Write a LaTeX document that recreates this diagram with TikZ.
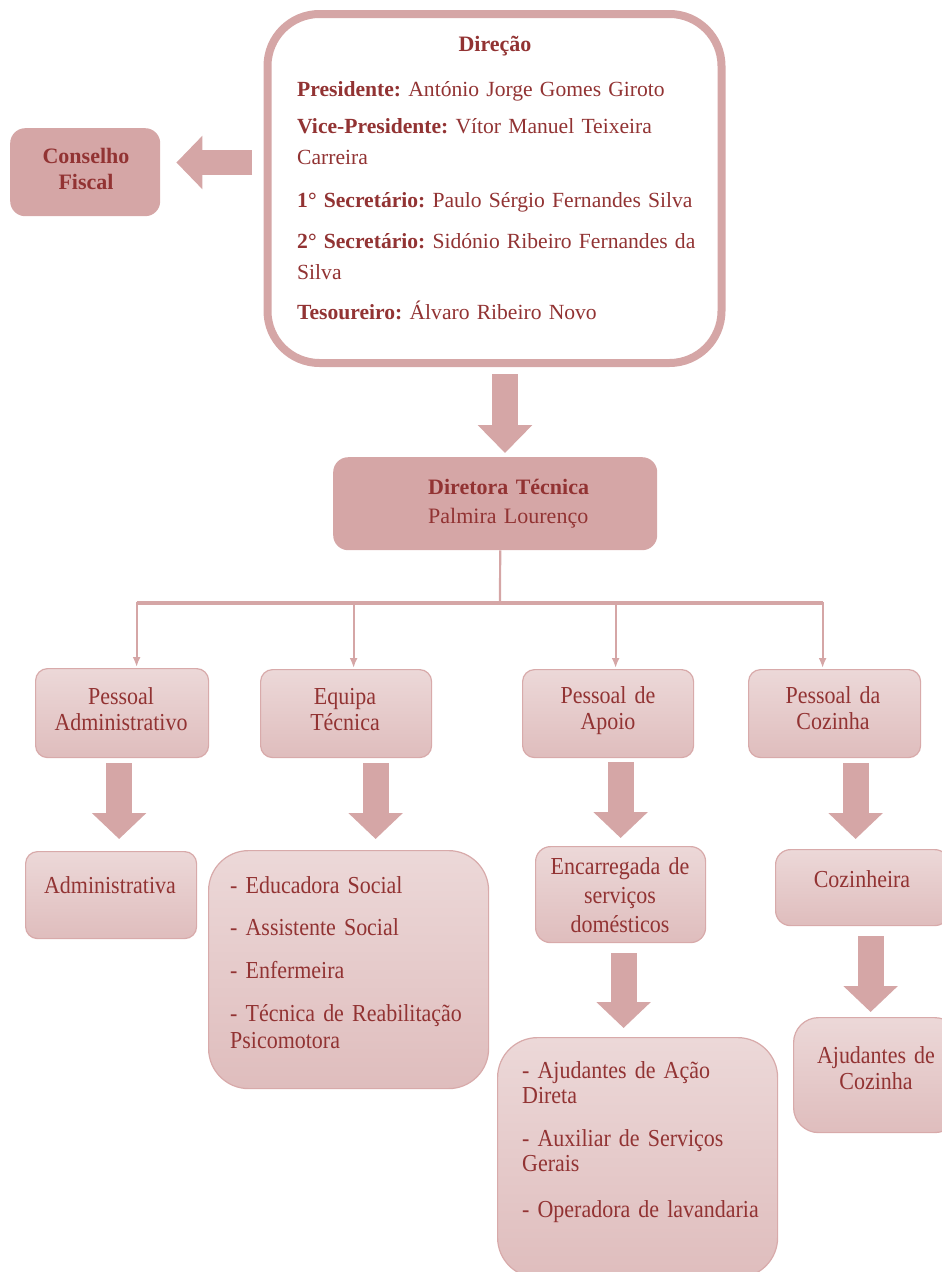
\documentclass[tikz,border=0pt]{standalone}
\usepackage{fontspec}
\setmainfont{Liberation Serif}
\newfontfamily\tallserif[FakeStretch=0.9]{Liberation Serif}
\usetikzlibrary{arrows.meta,calc}
\definecolor{rosedark}{HTML}{D5A6A6}
\definecolor{txtred}{HTML}{923333}
\definecolor{rosetop}{HTML}{ECD8D8}
\definecolor{rosebot}{HTML}{DFBDBD}
\definecolor{roseline}{HTML}{D8AAAA}
\begin{document}
\frenchspacing
\begin{tikzpicture}[x=1pt,y=-1pt,
  darkbox/.style={fill=rosedark, draw=none, rounded corners=15pt, anchor=north west, inner sep=0pt},
  lightbox/.style={top color=rosetop, bottom color=rosebot, draw=roseline, line width=1.2pt, rounded corners=12pt, anchor=north west, inner sep=0pt},
  blockarrow/.style={draw=rosedark, line width=26pt, -{Triangle[length=26pt,width=53pt]}},
  conn/.style={draw=rosedark, line width=2.2pt, -{Latex[length=10pt,width=8pt]}, shorten >=1pt},
  ctext/.style={anchor=base, inner sep=0pt, text=txtred, align=center, text width=#1},
  ltext/.style={anchor=base west, inner sep=0pt, text=txtred, align=left, text width=#1},
  lowfont/.style={font=\tallserif\fontsize{24.4}{#1}\selectfont},
]
\useasboundingbox (0,0) rectangle (942,1272);
\clip (0,0) rectangle (942,1272);

% Direcao
\node[draw=rosedark, line width=8pt, fill=white, rounded corners=52pt, anchor=north west,
      minimum width=454pt, minimum height=349pt, inner sep=0pt, outer sep=0pt] (dir) at (267.5,14) {};
\node[ctext=200pt, font=\fontsize{22}{26}\selectfont\bfseries] (dirtitle) at (495,51) {Direção};
\node[ltext=420pt, font=\fontsize{21.6}{31}\selectfont] (dirbody) at (297,96)
  {\textbf{Presidente:} António Jorge Gomes Giroto\\[6pt]
   \textbf{Vice-Presidente:} Vítor Manuel Teixeira\\
   Carreira\\[12pt]
   \textbf{1° Secretário:} Paulo Sérgio Fernandes Silva\\[10pt]
   \textbf{2° Secretário:} Sidónio Ribeiro Fernandes da\\
   Silva\\[9pt]
   \textbf{Tesoureiro:} Álvaro Ribeiro Novo};

% Conselho Fiscal
\node[darkbox, minimum width=150pt, minimum height=88pt] (cf) at (10,128) {};
\node[ctext=140pt, font=\fontsize{22}{26}\selectfont\bfseries] (cftxt) at (86,163) {Conselho\\Fiscal};

% Diretora Tecnica
\node[darkbox, minimum width=324pt, minimum height=93pt] (dt) at (333,457) {};
\node[ltext=200pt, font=\fontsize{22}{29}\selectfont] (dttxt) at (428,494)
  {\textbf{Diretora Técnica}\\Palmira Lourenço};

% block arrows top
\coordinate (cftail) at ($(dir.west)+(-15.5,-26)$);
\coordinate (cftip) at ($(cf.east)+(16,0)$);
\draw[blockarrow, line width=25pt, -{Triangle[length=26pt,width=52pt]}]
  (cftail) -- (cftail -| cftip);
\coordinate (dttail) at ($(dir.south)+(10.5,11)$);
\coordinate (dttip) at ($(dt.north)+(0,-4)$);
\draw[blockarrow, -{Triangle[length=28pt,width=53pt]}]
  (dttail) -- (dttail |- dttip);

% level 2
\node[lightbox, minimum width=173pt, minimum height=89pt] (pa) at (35,668) {};
\node[lightbox, minimum width=171pt, minimum height=88pt] (et) at (260,669) {};
\node[lightbox, minimum width=171pt, minimum height=88pt] (pda) at (522,669) {};
\node[lightbox, minimum width=172pt, minimum height=88pt] (pdc) at (748,669) {};
\node[ctext=170pt, lowfont=26] (patxt) at (121,704) {Pessoal\\Administrativo};
\node[ctext=170pt, lowfont=26] (ettxt) at (345,704) {Equipa\\Técnica};
\node[ctext=170pt, lowfont=26] (pdatxt) at (608,703) {Pessoal de\\Apoio};
\node[ctext=170pt, lowfont=26] (pdctxt) at (833,703) {Pessoal da\\Cozinha};

% tree connectors
\coordinate (hub) at (500,603);
\coordinate (dpa) at ($(pa.north)+(14.5,0)$);
\coordinate (det) at ($(et.north)+(7.5,0)$);
\coordinate (dpda) at ($(pda.north)+(7.5,0)$);
\coordinate (dpdc) at ($(pdc.north)+(-12,0)$);
\draw[draw=rosedark, line width=2.2pt] ($(dt.south)+(5,0)$) -- (hub);
\draw[conn] (hub) -| (dpa);
\draw[conn] (hub) -| (det);
\draw[conn] (hub) -| (dpda);
\draw[conn] (hub) -| (dpdc);
\draw[draw=rosedark, line width=3.6pt] (dpa |- hub) -- (dpdc |- hub);

% level 3
\node[lightbox, minimum width=171pt, minimum height=87pt] (adm) at (25,851) {};
\node[ctext=170pt, lowfont=28] (admtxt) at (110,893) {Administrativa};

\node[lightbox, rounded corners=40pt, minimum width=280pt, minimum height=238pt] (eq) at (208,850) {};
\node[ltext=260pt, lowfont=27] (eqtxt) at (230,893)
  {- Educadora Social\\[15pt]
   - Assistente Social\\[16pt]
   - Enfermeira\\[16pt]
   - Técnica de Reabilitação\\
   Psicomotora};

\node[lightbox, rounded corners=15pt, minimum width=170pt, minimum height=96pt] (enc) at (535,846) {};
\node[ctext=170pt, lowfont=29] (enctxt) at (620,874) {Encarregada de\\serviços\\domésticos};

\node[lightbox, rounded corners=15pt, minimum width=174pt, minimum height=76pt] (coz) at (775,849) {};
\node[ctext=170pt, lowfont=28] (coztxt) at (862,887) {Cozinheira};

% level 4
\node[lightbox, rounded corners=40pt, minimum width=280pt, minimum height=240pt] (aj) at (497,1037) {};
\node[ltext=260pt, lowfont=25] (ajtxt) at (522,1078)
  {- Ajudantes de Ação\\
   Direta\\[18pt]
   - Auxiliar de Serviços\\
   Gerais\\[21pt]
   - Operadora de lavandaria};

\node[lightbox, rounded corners=25pt, minimum width=166pt, minimum height=115pt] (ajc) at (793,1017) {};
\node[ctext=160pt, lowfont=26] (ajctxt) at (876,1063) {Ajudantes de\\Cozinha};

% block arrows lower
\draw[blockarrow] ($(pa.south)+(-3,5)$) -- ($(adm.north)+(8,-12)$);
\draw[blockarrow] ($(et.south)+(29.5,5)$) -- ($(eq.north)+(27,-11)$);
\draw[blockarrow] ($(pda.south)+(12.5,4)$) -- ($(enc.north)+(0,-8)$);
\draw[blockarrow] ($(pdc.south)+(21,5)$) -- ($(coz.north)+(-7,-10)$);
\draw[blockarrow] ($(enc.south)+(3,10)$) -- ($(aj.north)+(-14,-9)$);
\draw[blockarrow] ($(coz.south)+(8,10)$) -- ($(ajc.north)+(-6,-5)$);
\end{tikzpicture}
\end{document}
